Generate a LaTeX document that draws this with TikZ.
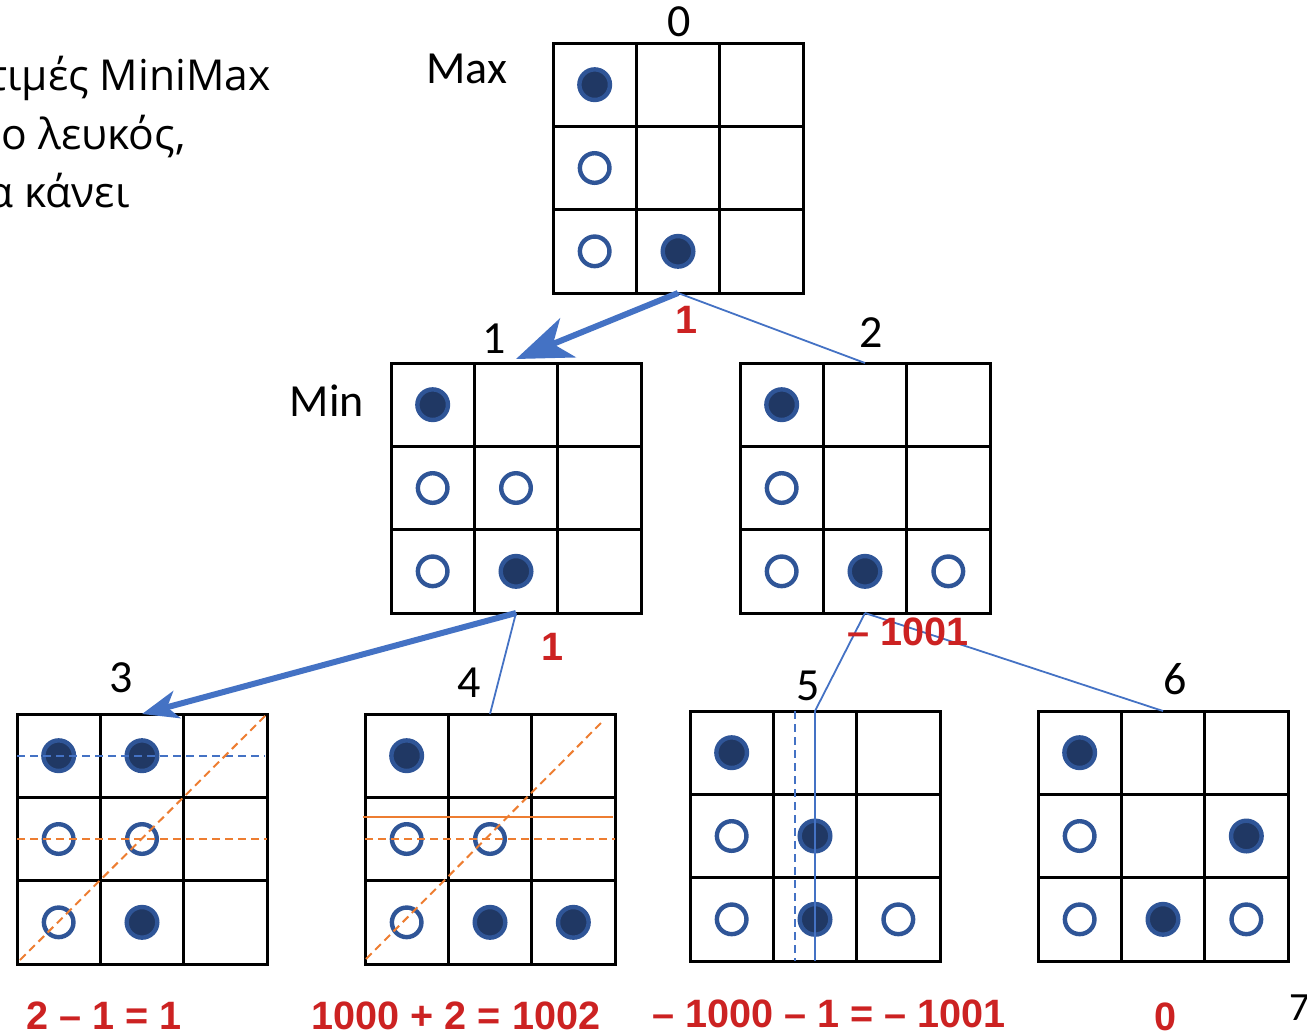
\documentclass[tikz,border=0pt]{standalone}
\usepackage{fontspec}
\setmainfont{Carlito}
\newfontfamily\redfont{Liberation Sans}
\newfontfamily\notefont{Open Sans}
\usetikzlibrary{calc,arrows.meta}

\definecolor{stoneblue}{HTML}{2F5597}
\definecolor{stonedark}{HTML}{203864}
\definecolor{linkblue}{HTML}{4472C4}
\definecolor{markorange}{HTML}{ED7D31}
\definecolor{scorered}{RGB}{204,34,34}

\tikzset{
	board/.style={draw, line width=1.5pt, minimum size=125pt, inner sep=0pt, outer sep=0pt},
	gridline/.style={line width=1.5pt},
	bstone/.style={draw=stoneblue, fill=stonedark, line width=2.2pt},
	wstone/.style={draw=stoneblue, fill=white, line width=2.2pt},
	tag/.style={font=\fontsize{23}{27}\selectfont, inner sep=0pt, anchor=base},
	note/.style={font=\notefont\fontsize{21.3}{26}\selectfont, inner sep=0pt, anchor=base east},
	score/.style={font=\redfont\bfseries\fontsize{19.8}{24}\selectfont, text=scorered, inner sep=0pt, anchor=base},
	move/.style={linkblue, line width=3pt, -{Stealth[length=28pt, width=21pt, inset=8pt]}},
	link/.style={linkblue, line width=0.9pt},
	trace/.style={markorange, line width=1pt, dash pattern=on 4pt off 2.5pt},
}

% 3x3 board: name, top left corner
\newcommand{\board}[3]{%
	\node[board] (#1) at (#2+125,#3+125) {};
	\foreach \k in {1,2}{
		\draw[gridline] ($(#1.north west)+(\k*83.33,0)$) -- ($(#1.south west)+(\k*83.33,0)$);
		\draw[gridline] ($(#1.north west)+(0,\k*83.33)$) -- ($(#1.north east)+(0,\k*83.33)$);
	}
}
% stones on a board: board, dark col/row, light col/row
\newcommand{\stones}[3]{%
	\foreach \c/\r in {#2}
		\draw[bstone] ($(#1.north west)+(\c*83.33+41.67,\r*83.33+41.67)$) circle (7.65pt);
	\foreach \c/\r in {#3}
		\draw[wstone] ($(#1.north west)+(\c*83.33+41.67,\r*83.33+41.67)$) circle (7.4pt);
}

\begin{document}
\begin{tikzpicture}[x=0.5pt, y=-0.5pt]
		%%%%% START %%%%%
		\useasboundingbox (0,0) rectangle (1307,1035);
		
		\node[note] (p1) at (271,90) {τιμές MiniMax};
		\node[note] (p2) at (186,149) {ο λευκός,};
		\node[note] (p3) at (130,207) {α κάνει};
		
		\board{b0}{553}{43}
		\board{b1}{391}{363}
		\board{b2}{740}{363}
		\board{b3}{17}{714}
		\board{b4}{365}{714}
		\board{b5}{690}{711}
		\board{b6}{1038}{711}
		
		\stones{b0}{0/0, 1/2}{0/1, 0/2}
		\stones{b1}{0/0, 1/2}{0/1, 1/1, 0/2}
		\stones{b2}{0/0, 1/2}{0/1, 0/2, 2/2}
		\stones{b3}{0/0, 1/0, 1/2}{0/1, 1/1, 0/2}
		\stones{b4}{0/0, 1/2, 2/2}{0/1, 1/1, 0/2}
		\stones{b5}{0/0, 1/1, 1/2}{0/1, 0/2, 2/2}
		\stones{b6}{0/0, 2/1, 1/2}{0/1, 0/2, 2/2}
		
		\node[tag] (t0) at (679,36) {0};
		\node[tag] (tmax) at (467,83) {Max};
		\node[tag] (t1) at (494,353) {1};
		\node[tag] (t2) at (871,347) {2};
		\node[tag] (tmin) at (327,416) {Min};
		\node[tag] (t3) at (121,692) {3};
		\node[tag] (t4) at (469,697) {4};
		\node[tag] (t5) at (808,700) {5};
		\node[tag] (t6) at (1175,694) {6};
		\node[tag, anchor=base west, font=\fontsize{20}{24}\selectfont] (page) at (1289,1020) {7};
		
		\draw[move] (b0.south) -- ([yshift=2pt]b1.north);
		\draw[link] (b0.south) -- (b2.north);
		\draw[move, -{Stealth[length=18pt, width=14pt, inset=5pt]}] (b1.south) -- (b3.north);
		\draw[link] (b1.south) -- (b4.north);
		\draw[link] (b2.south) -- (b5.north);
		\draw[link] (b2.south) -- (b6.north);
		
		% lines through the leaf boards
		\draw[trace, linkblue] ($(b3.north west)+(0,41.67)$) -- ($(b3.north east)+(-2,41.67)$);
		\draw[trace] (b3.west) -- (b3.east);
		\draw[trace] ($(b3.south west)+(3,-4)$) -- (b3.north east);
		\draw[markorange, line width=1pt] ($(b4.north west)+(-2,103)$) -- ($(b4.north east)+(-2,103)$);
		\draw[trace] (b4.west) -- (b4.east);
		\draw[trace] ($(b4.south west)+(1,-5)$) -- ($(b4.north east)+(-12,7)$);
		\draw[link] (b5.north) -- (b5.south);
		\draw[link, dash pattern=on 4pt off 2.5pt] ([xshift=-10pt]b5.north) -- ([xshift=-10pt]b5.south);
		
		\node[score] (s0) at (687,333) {1};
		\node[score] (s1) at (553,660) {1};
		\node[score] (s2) at (908,645) {– 1001};
		\node[score] (s3) at (104,1029) {2 – 1 = 1};
		\node[score] (s4) at (456,1029) {1000 + 2 = 1002};
		\node[score] (s5) at (829,1027) {– 1000 – 1 = – 1001};
		\node[score] (s6) at (1165,1030) {0};
		
		%%%%% END %%%%%
\end{tikzpicture}
\end{document}
